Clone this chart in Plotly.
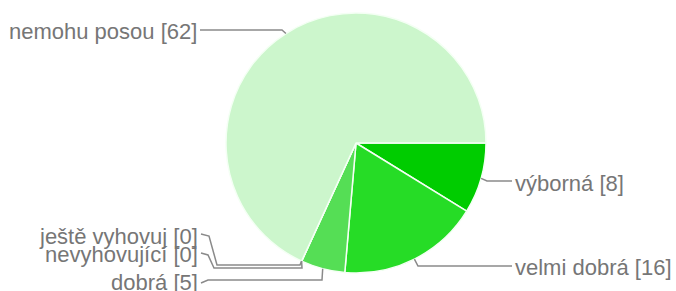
import math
import plotly.graph_objects as go

# ---- data ----
labels = ["výborná", "velmi dobrá", "dobrá", "nevyhovující", "ještě vyhovuj", "nemohu posou"]
values = [8, 16, 5, 0, 0, 62]
colors = ["#00cc00", "#26dc26", "#55de55", "#88ea88", "#aaf0aa", "#ccf6cc"]

# ---- geometry (pixels) ----
W, H = 676, 291
CX, CY, R = 356, 143, 130

# label placement (layout only): side, label x, label y, routing points
label_layout = {
    "výborná":       dict(side="right", lx=513, ly=183, route=[(487, 181), (512, 181)]),
    "velmi dobrá":   dict(side="right", lx=513, ly=267, route=[(418, 266), (512, 266)]),
    "dobrá":         dict(side="left",  lx=200, ly=282, route=[(322, 280), (208, 280), (201, 283)]),
    "nevyhovující":  dict(side="left",  lx=200, ly=254, route=[(302, 268), (214, 268), (208, 255), (201, 253)]),
    "ještě vyhovuj": dict(side="left",  lx=200, ly=236, route=[(300, 265), (217, 265), (209, 236), (201, 234)]),
    "nemohu posou":  dict(side="left",  lx=199, ly=31,  route=[(282, 30), (200, 30)]),
}

fig = go.Figure()
fig.add_trace(go.Pie(
    labels=labels, values=values, sort=False, direction="clockwise", rotation=90,
    marker=dict(colors=colors, line=dict(color="#f4fff4", width=1.5)),
    textinfo="none", hoverinfo="label+value", showlegend=False,
    domain=dict(x=[(CX - R) / W, (CX + R) / W], y=[1 - (CY + R) / H, 1 - (CY - R) / H]),
))

# invisible pixel-coordinate axes for leader lines
fig.add_trace(go.Scatter(x=[0, W], y=[0, H], mode="markers", marker=dict(opacity=0),
                         hoverinfo="skip", showlegend=False))

total = sum(values)
cum = 0
for lab, v in zip(labels, values):
    mid = (cum + v / 2) / total * 360.0  # degrees clockwise from 3 o'clock
    cum += v
    ex = CX + R * math.cos(math.radians(mid))
    ey = CY + R * math.sin(math.radians(mid))
    lay = label_layout[lab]
    pts = [(ex, ey)] + lay["route"]
    path = "M " + " L ".join(f"{x:.1f},{y:.1f}" for x, y in pts)
    fig.add_shape(type="path", path=path, xref="x", yref="y",
                  line=dict(color="#8a8a8a", width=1.5))
    fig.add_annotation(x=lay["lx"], y=lay["ly"], xref="x", yref="y",
                       text=f"{lab} [{v}]", showarrow=False,
                       xanchor="left" if lay["side"] == "right" else "right",
                       yanchor="middle",
                       font=dict(family="Liberation Sans, Arial, sans-serif", size=22, color="#767676"))

fig.update_layout(
    width=W, height=H, margin=dict(l=0, r=0, t=0, b=0),
    paper_bgcolor="white", plot_bgcolor="rgba(0,0,0,0)",
    xaxis=dict(range=[0, W], visible=False, fixedrange=True),
    yaxis=dict(range=[H, 0], visible=False, fixedrange=True),
)

fig.write_html("out.html", config={"displayModeBar": False},
               post_script="document.body.style.margin='0';document.body.style.overflow='hidden';")
